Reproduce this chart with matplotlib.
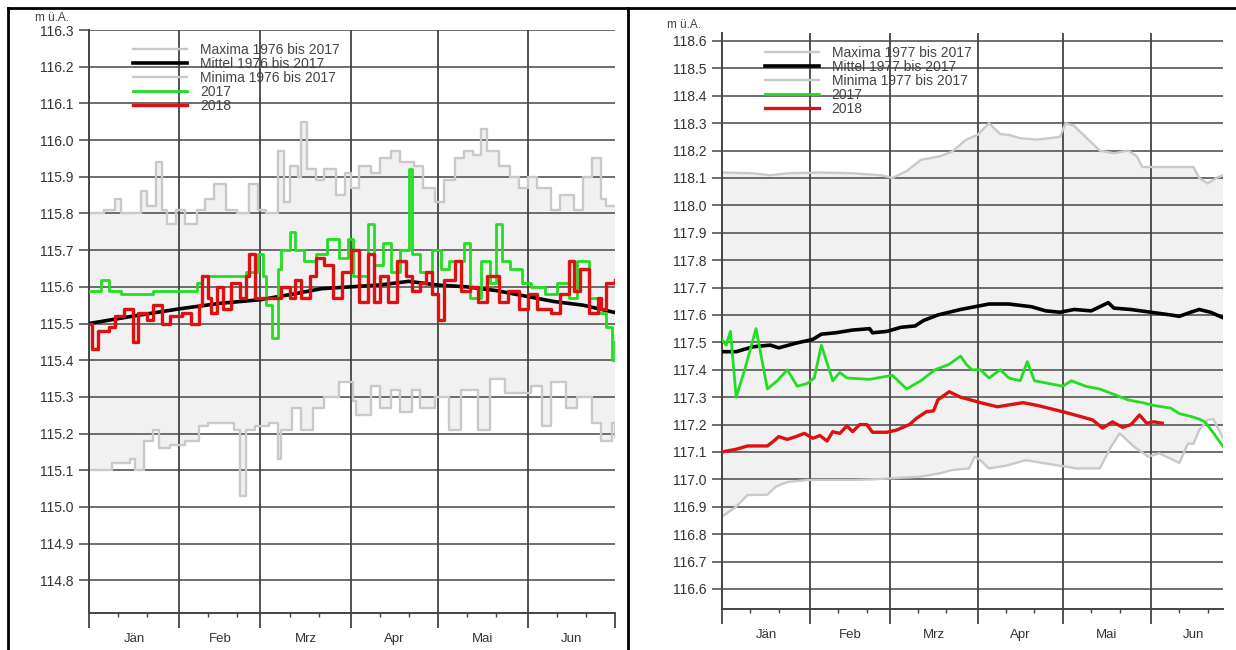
import numpy as np
import matplotlib.pyplot as plt
from matplotlib.lines import Line2D

plt.rcParams['font.family'] = ['Liberation Sans', 'DejaVu Sans']

month_starts = [0, 31, 59, 90, 120, 151, 181]
month_names = ['Jän', 'Feb', 'Mrz', 'Apr', 'Mai', 'Jun']

# ---- left station (days since 1 Jan) ----
l_max_day = [0, 5, 9, 11, 15, 18, 20, 23, 25, 27, 30, 33, 37, 40, 43, 47, 51, 55, 58, 61,
             65, 67, 69, 72, 73, 75, 78, 81, 85, 88, 90, 93, 97, 100, 104, 107, 112, 115, 119, 122,
             126, 129, 132, 135, 137, 141, 145, 148, 151, 154, 159, 162, 167, 170, 173, 176, 178, 181]
l_max_val = [115.80, 115.81, 115.84, 115.80, 115.80, 115.86, 115.82, 115.94, 115.81, 115.77,
             115.81, 115.77, 115.81, 115.84, 115.88, 115.81, 115.80, 115.88, 115.81, 115.80,
             115.97, 115.83, 115.93, 115.90, 116.05, 115.92, 115.89, 115.92, 115.85, 115.91,
             115.87, 115.93, 115.91, 115.95, 115.97, 115.94, 115.93, 115.87, 115.83, 115.89,
             115.95, 115.97, 115.96, 116.03, 115.97, 115.93, 115.90, 115.87, 115.90, 115.87,
             115.81, 115.85, 115.81, 115.90, 115.95, 115.84, 115.82, 115.82]

l_min_day = [0, 8, 14, 16, 19, 22, 24, 28, 33, 38, 41, 48, 50, 52, 54, 57, 62, 65, 66, 70,
             73, 77, 81, 86, 91, 92, 97, 100, 104, 107, 111, 114, 119, 124, 128, 134, 138, 143, 148, 152,
             156, 159, 164, 168, 173, 176, 180, 181]
l_min_val = [115.10, 115.12, 115.13, 115.10, 115.18, 115.21, 115.16, 115.17, 115.18, 115.22,
             115.23, 115.23, 115.21, 115.03, 115.21, 115.22, 115.23, 115.13, 115.21, 115.27,
             115.21, 115.27, 115.30, 115.34, 115.29, 115.25, 115.33, 115.27, 115.32, 115.26,
             115.32, 115.27, 115.30, 115.21, 115.32, 115.21, 115.35, 115.31, 115.31, 115.33,
             115.22, 115.34, 115.27, 115.30, 115.23, 115.18, 115.23, 115.19]

l_mean_day = [0, 15, 31, 45, 59, 70, 80, 90, 100, 110, 120, 130, 140, 150, 160, 170, 181]
l_mean_val = [115.50, 115.52, 115.54, 115.555, 115.565, 115.58, 115.595, 115.60, 115.605,
              115.615, 115.605, 115.60, 115.59, 115.575, 115.56, 115.55, 115.53]

l17_day = [0, 4, 7, 11, 22, 37, 39, 50, 54, 58, 60, 61, 63, 65, 66, 69, 71, 74, 78, 82,
           86, 89, 91, 96, 98, 101, 104, 107, 110, 111, 114, 118, 121, 124, 129, 131, 135, 138, 140, 142,
           145, 149, 152, 157, 161, 165, 168, 172, 175, 178, 180, 181]
l17_val = [115.59, 115.62, 115.59, 115.58, 115.59, 115.61, 115.63, 115.63, 115.64, 115.69,
           115.63, 115.55, 115.46, 115.65, 115.70, 115.75, 115.70, 115.67, 115.69, 115.73,
           115.68, 115.73, 115.63, 115.77, 115.66, 115.72, 115.64, 115.70, 115.92, 115.69,
           115.64, 115.70, 115.65, 115.67, 115.72, 115.57, 115.67, 115.61, 115.77, 115.67,
           115.65, 115.61, 115.60, 115.58, 115.61, 115.57, 115.67, 115.57, 115.53, 115.49,
           115.40, 115.45]

l18_day = [0, 1, 3, 7, 9, 12, 15, 17, 20, 22, 25, 28, 32, 35, 38, 39, 41, 42, 44, 46,
           49, 52, 54, 55, 57, 60, 63, 66, 69, 71, 73, 76, 78, 81, 84, 87, 90, 91, 93, 96,
           98, 100, 103, 106, 109, 111, 114, 116, 118, 120, 122, 126, 128, 131, 134, 137, 141, 144, 148, 151,
           154, 159, 162, 165, 167, 169, 172, 175, 176, 178, 181]
l18_val = [115.50, 115.43, 115.48, 115.49, 115.52, 115.54, 115.45, 115.53, 115.51, 115.55,
           115.50, 115.52, 115.53, 115.50, 115.55, 115.63, 115.57, 115.53, 115.60, 115.54,
           115.61, 115.57, 115.63, 115.69, 115.57, 115.57, 115.57, 115.60, 115.57, 115.62,
           115.57, 115.63, 115.68, 115.66, 115.57, 115.64, 115.70, 115.70, 115.56, 115.69,
           115.56, 115.63, 115.56, 115.67, 115.63, 115.59, 115.61, 115.64, 115.58, 115.51,
           115.62, 115.67, 115.59, 115.60, 115.56, 115.63, 115.56, 115.59, 115.54, 115.58,
           115.54, 115.53, 115.58, 115.67, 115.59, 115.65, 115.53, 115.57, 115.54, 115.61,
           115.62]

# ---- right station ----
r_max_day = [0, 11, 17, 23, 35, 46, 56, 60, 65, 70, 77, 81, 86, 90, 94, 98, 101, 105, 111, 119,
             121, 124, 129, 133, 138, 143, 146, 148, 154, 166, 168, 171, 174, 176.4]
r_max_val = [118.12, 118.117, 118.11, 118.117, 118.12, 118.117, 118.11, 118.10, 118.125, 118.166,
             118.18, 118.196, 118.24, 118.257, 118.30, 118.26, 118.257, 118.245, 118.24, 118.25,
             118.30, 118.29, 118.24, 118.20, 118.19, 118.20, 118.18, 118.14, 118.14, 118.14,
             118.10, 118.08, 118.10, 118.11]

r_min_day = [0, 5, 9, 16, 19, 23, 30, 46, 53, 70, 77, 81, 87, 89, 91, 94, 100, 107, 117, 125,
             133, 137, 140, 145, 150, 154, 161, 164, 166, 168, 171, 173, 176.4]
r_min_val = [116.864, 116.90, 116.943, 116.944, 116.974, 116.99, 116.998, 116.998, 117.0, 117.01,
             117.023, 117.034, 117.04, 117.083, 117.07, 117.04, 117.05, 117.07, 117.053, 117.04,
             117.04, 117.12, 117.168, 117.12, 117.083, 117.095, 117.06, 117.13, 117.13, 117.18,
             117.217, 117.22, 117.15]

r_mean_day = [0, 5, 11, 17, 20, 26, 32, 35, 40, 46, 52, 53, 58, 63, 68, 71, 76, 84, 94, 101,
              109, 114, 119, 124, 130, 133, 136, 138, 144, 151, 158, 161, 165, 168, 172, 176.4]
r_mean_val = [117.466, 117.466, 117.484, 117.49, 117.48, 117.497, 117.511, 117.53, 117.535, 117.545,
              117.55, 117.535, 117.54, 117.555, 117.56, 117.58, 117.60, 117.62, 117.64, 117.64,
              117.63, 117.615, 117.61, 117.62, 117.615, 117.63, 117.645, 117.625, 117.62, 117.61,
              117.60, 117.595, 117.61, 117.62, 117.61, 117.59]

r17_day = [0, 1.5, 3, 5, 8, 12, 14, 16, 19.5, 23, 26.5, 30, 32.5, 35, 39, 41.5, 44, 52, 60, 65,
           70, 75, 80, 84, 86, 88, 91, 94, 98, 101, 105, 107.5, 110, 115, 120, 123, 128, 133, 138, 143,
           148, 152, 158, 161, 165, 168, 170, 173, 176.4]
r17_val = [117.51, 117.49, 117.54, 117.30, 117.40, 117.55, 117.44, 117.33, 117.36, 117.40,
           117.34, 117.35, 117.37, 117.49, 117.36, 117.39, 117.37, 117.365, 117.38, 117.33,
           117.36, 117.40, 117.42, 117.45, 117.42, 117.40, 117.40, 117.37, 117.40, 117.37,
           117.36, 117.43, 117.36, 117.35, 117.34, 117.36, 117.34, 117.33, 117.31, 117.29,
           117.28, 117.27, 117.26, 117.24, 117.23, 117.22, 117.21, 117.17, 117.12]

r18_day = [0, 5, 9, 16, 18, 20, 23, 26, 29, 32, 34.5, 37, 39, 41.5, 44, 46, 48.5, 51, 53, 58,
           61.5, 66, 68.5, 72, 74.5, 76, 80, 84, 91, 97, 106, 111, 120, 126, 130.5, 134, 137.5, 141, 144, 147,
           149.5, 152, 155]
r18_val = [117.10, 117.11, 117.122, 117.122, 117.138, 117.156, 117.146, 117.156, 117.168, 117.15,
           117.16, 117.14, 117.174, 117.168, 117.195, 117.174, 117.20, 117.20, 117.172, 117.172,
           117.18, 117.20, 117.223, 117.247, 117.25, 117.29, 117.32, 117.30, 117.28, 117.265,
           117.28, 117.27, 117.247, 117.23, 117.217, 117.187, 117.21, 117.19, 117.20, 117.235,
           117.205, 117.21, 117.205]

GRID = '#555555'
ENV = '#c9c9c9'
FILL = '#f1f1f1'


def steps(x, y):
    # expand to a step outline (value holds until the next day)
    xs, ys = [], []
    for i in range(len(x)):
        xs.append(x[i])
        ys.append(y[i])
        if i + 1 < len(x):
            xs.append(x[i + 1])
            ys.append(y[i])
    return np.array(xs), np.array(ys)


def draw_panel(ax, series, stepped, ylim, ymax_tick, xmax, years, leg_anchor):
    (mx_d, mx_v), (mn_d, mn_v), (me_d, me_v), (a_d, a_v), (b_d, b_v) = series
    if stepped:
        mx_d, mx_v = steps(mx_d, mx_v)
        mn_d, mn_v = steps(mn_d, mn_v)
        a_d, a_v = steps(a_d, a_v)
        b_d, b_v = steps(b_d, b_v)
    mx_d, mx_v, mn_d, mn_v = map(np.asarray, (mx_d, mx_v, mn_d, mn_v))

    # envelope between maxima and minima
    ax.fill(np.concatenate([mx_d, mn_d[::-1]]), np.concatenate([mx_v, mn_v[::-1]]),
            color=FILL, lw=0, zorder=0)

    ax.plot(mx_d, mx_v, color=ENV, lw=1.7, zorder=2, label='Maxima %s bis 2017' % years)
    ax.plot(me_d, me_v, color='black', lw=2.6, zorder=3, label='Mittel %s bis 2017' % years)
    ax.plot(mn_d, mn_v, color=ENV, lw=1.7, zorder=2, label='Minima %s bis 2017' % years)
    ax.plot(a_d, a_v, color='#22dd22', lw=2.0, zorder=4, label='2017')
    ax.plot(b_d, b_v, color='#dd1111', lw=2.4, zorder=5, label='2018')

    ax.set_xlim(0, xmax)
    ax.set_ylim(*ylim)

    yt = np.round(np.arange(ymax_tick, ylim[0], -0.1), 1)
    ax.set_yticks(yt)
    ax.set_yticklabels(['%.1f' % v for v in yt])
    for v in yt:
        ax.axhline(v, color=GRID, lw=1.2, zorder=1)

    ax.set_xticks([m for m in month_starts if m <= xmax])
    ax.set_xticklabels([])
    ax.set_xticks([m + d for m in month_starts[:-1] for d in (10, 20) if m + d < xmax], minor=True)
    for m in month_starts[1:]:
        if m < xmax:
            ax.axvline(m, color='#444444', lw=1.3, zorder=1)
    for i, name in enumerate(month_names):
        mid = (month_starts[i] + month_starts[i + 1]) / 2.0
        ax.text(mid, -0.045, name, transform=ax.get_xaxis_transform(),
                ha='center', va='center', fontsize=9.5, color='#333333')

    ax.tick_params(axis='y', length=7, width=1.2, color=GRID, labelsize=10,
                   labelcolor='#333333', pad=4)
    ax.tick_params(axis='x', which='major', length=11, width=1.3, color='#444444')
    ax.tick_params(axis='x', which='minor', length=3, width=1.0, color='#444444')

    for s in ('top', 'right'):
        ax.spines[s].set_visible(False)
    for s in ('left', 'bottom'):
        ax.spines[s].set_color('#444444')
        ax.spines[s].set_linewidth(1.4)

    ax.legend(loc='upper left', bbox_to_anchor=leg_anchor, frameon=False, fontsize=10,
              handlelength=3.9, handletextpad=0.9, labelspacing=0.0, borderpad=0,
              borderaxespad=0, labelcolor='#444444')


fig = plt.figure(figsize=(12.36, 6.5), dpi=100)
fig.patch.set_facecolor('white')

ax1 = fig.add_axes([0.072, 0.0569, 0.4256, 0.8969])
draw_panel(ax1,
           [(l_max_day, l_max_val), (l_min_day, l_min_val), (l_mean_day, l_mean_val),
            (l17_day, l17_val), (l18_day, l18_val)],
           True, (114.711, 116.3), 116.3, 181, '1976', (0.084, 0.978))

ax2 = fig.add_axes([0.5841, 0.0631, 0.4054, 0.8861])
draw_panel(ax2,
           [(r_max_day, r_max_val), (r_min_day, r_min_val), (r_mean_day, r_mean_val),
            (r17_day, r17_val), (r18_day, r18_val)],
           False, (116.527, 118.629), 118.6, 176.4, '1977', (0.086, 0.978))

fig.text(35 / 1236, 1 - 18 / 650, 'm ü.A.', fontsize=8.5, color='#444444', va='center')
fig.text(667 / 1236, 1 - 25 / 650, 'm ü.A.', fontsize=8.5, color='#444444', va='center')

# table borders around the two cells
for xs, ys in [([8, 1236], [8, 8]), ([8, 8], [8, 650]), ([628, 628], [8, 650])]:
    fig.add_artist(Line2D([x / 1236 for x in xs], [1 - y / 650 for y in ys],
                          transform=fig.transFigure, color='black', lw=2))

fig.savefig('out.png', dpi=100)
